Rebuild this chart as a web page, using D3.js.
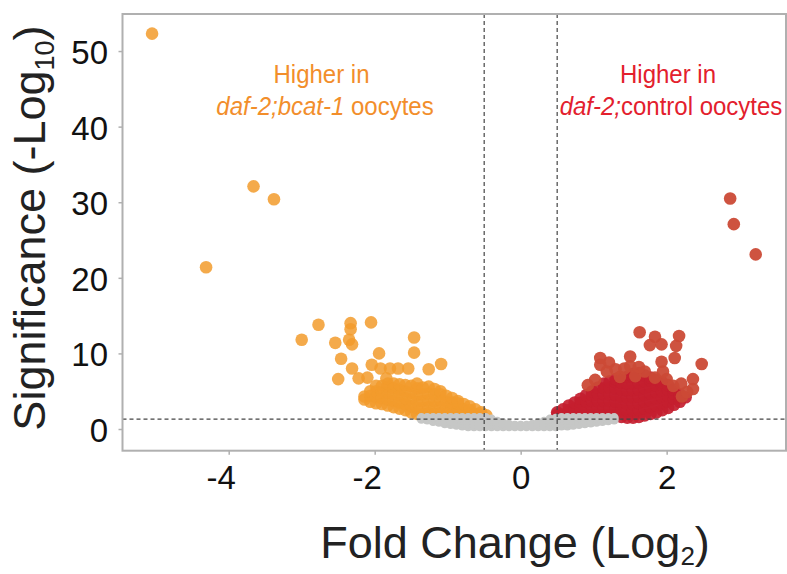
<!DOCTYPE html>
<html>
<head>
<meta charset="utf-8">
<script src="https://cdn.jsdelivr.net/npm/d3@7"></script>
<style>
  html, body { margin: 0; padding: 0; background: #ffffff; }
  svg { display: block; }
  text { font-family: "Liberation Sans", Arial, Helvetica, sans-serif; }
</style>
</head>
<body>
<svg id="chart" width="787" height="574"></svg>
<script>
// ---------------- data ----------------
const xTicks = [-4, -2, 0, 2];
const yTicks = [0, 10, 20, 30, 40, 50];
const foldCutoffs = [-0.5, 0.5];
const significanceCutoff = 1.3;

// isolated genes higher in daf-2;bcat-1 (log2 FC, -log10 p)
const downOuter = [
  [-5.05, 52.3], [-3.66, 32.1], [-3.38, 30.4], [-4.31, 21.4],
  [-2.77, 13.8], [-2.33, 14.0], [-2.33, 13.2], [-2.05, 14.1],
  [-3.00, 11.8], [-2.54, 11.4], [-2.35, 11.8], [-2.31, 11.2],
  [-1.46, 12.1], [-1.46, 10.1], [-1.94, 10.0], [-2.46, 9.3],
  [-2.50, 6.6], [-2.31, 8.0], [-2.22, 6.7], [-2.10, 6.8], [-2.04, 8.5],
  [-1.92, 8.0], [-1.79, 8.0], [-1.68, 8.0], [-1.54, 8.0], [-1.26, 7.9],
  [-1.09, 8.6], [-1.84, 6.7]
];
// dense cloud, columns of [log2 FC, [-log10 p ...]]
const downCore = [
  [-2.14, [3.9, 4.3]],
  [-2.06, [3.6, 4.4, 5.0]],
  [-1.98, [3.4, 4.2, 5.0, 5.7]],
  [-1.90, [3.3, 4.1, 4.9, 5.7]],
  [-1.82, [3.1, 3.9, 4.8, 5.6, 6.0]],
  [-1.74, [2.9, 3.7, 4.6, 5.4, 6.0]],
  [-1.66, [2.7, 3.5, 4.4, 5.2, 5.9]],
  [-1.58, [2.5, 3.3, 4.1, 5.0, 5.8]],
  [-1.50, [2.2, 3.0, 3.9, 4.8, 5.7]],
  [-1.42, [2.0, 2.8, 3.6, 4.5, 5.4, 6.0]],
  [-1.34, [2.0, 2.8, 3.7, 4.6, 5.5]],
  [-1.26, [2.1, 2.9, 3.8, 4.7, 5.6]],
  [-1.18, [2.0, 2.9, 3.7, 4.6, 5.3]],
  [-1.10, [2.1, 2.9, 3.8, 4.6, 5.0]],
  [-1.02, [2.0, 2.8, 3.6, 4.4]],
  [-0.94, [2.0, 2.8, 3.5, 4.1]],
  [-0.86, [2.0, 2.7, 3.4, 3.7]],
  [-0.78, [2.0, 2.6, 3.3]],
  [-0.70, [2.0, 2.5, 3.0]],
  [-0.62, [2.0, 2.6]],
  [-0.54, [1.9, 2.2]],
  [-0.47, [1.8]]
];

// genes higher in daf-2;control
const upOuter = [
  [2.87, 30.5], [2.92, 27.1], [3.22, 23.1],
  [1.63, 12.8], [1.84, 12.2], [2.17, 12.3], [1.77, 11.1], [1.93, 11.2], [2.13, 11.0],
  [2.11, 9.4], [1.93, 8.9], [2.48, 8.6], [1.09, 9.4], [1.21, 8.8], [1.09, 8.5],
  [1.50, 9.6], [1.50, 8.3], [2.36, 6.6], [2.36, 5.3], [2.21, 4.3], [2.00, 6.6],
  [2.09, 5.7], [1.02, 6.5], [1.36, 6.9], [1.70, 7.6], [1.57, 7.0], [1.84, 6.8],
  [1.18, 7.6], [1.30, 7.9], [1.42, 8.0], [1.62, 8.2], [1.95, 7.6], [2.20, 6.0],
  [0.92, 5.8], [2.28, 4.9]
];
const upCore = [
  [0.50, [1.9, 2.2]],
  [0.58, [1.9, 2.6]],
  [0.66, [1.9, 2.5, 3.1]],
  [0.74, [1.9, 2.7, 3.5]],
  [0.82, [1.9, 2.7, 3.5, 4.0]],
  [0.90, [1.9, 2.7, 3.6, 4.5]],
  [0.98, [1.9, 2.8, 3.7, 4.5, 5.0]],
  [1.06, [1.9, 2.8, 3.7, 4.6, 5.5]],
  [1.14, [1.9, 2.8, 3.7, 4.6, 5.4, 6.0]],
  [1.22, [1.9, 2.8, 3.7, 4.6, 5.5, 6.3]],
  [1.30, [1.9, 2.7, 3.6, 4.5, 5.4, 6.2, 6.6]],
  [1.38, [1.6, 2.5, 3.4, 4.3, 5.2, 6.1, 6.8]],
  [1.46, [1.5, 2.4, 3.3, 4.2, 5.1, 6.0, 6.9]],
  [1.54, [1.5, 2.4, 3.3, 4.2, 5.1, 6.0, 6.9, 7.3]],
  [1.62, [1.6, 2.5, 3.4, 4.3, 5.2, 6.1, 7.0, 7.4]],
  [1.70, [1.8, 2.7, 3.6, 4.5, 5.4, 6.3, 7.1]],
  [1.78, [2.0, 2.9, 3.8, 4.7, 5.6, 6.4, 6.8]],
  [1.86, [2.2, 3.1, 4.0, 4.9, 5.7, 6.5]],
  [1.94, [2.5, 3.3, 4.2, 5.0, 5.8, 6.2]],
  [2.02, [2.8, 3.6, 4.4, 5.2, 5.8]],
  [2.10, [3.2, 4.0, 4.7, 5.2]],
  [2.18, [3.6, 4.2, 4.6]],
  [2.26, [4.2]]
];

// not significant genes
const nsCore = [
  [-1.36, [1.3, 1.5]],
  [-1.28, [1.2, 1.5]],
  [-1.20, [1.0, 1.5]],
  [-1.12, [0.9, 1.3, 1.5]],
  [-1.04, [0.7, 1.1, 1.5]],
  [-0.96, [0.6, 1.0, 1.5]],
  [-0.88, [0.5, 0.9, 1.3, 1.5]],
  [-0.80, [0.4, 0.8, 1.2, 1.5]],
  [-0.72, [0.3, 0.7, 1.1, 1.5]],
  [-0.64, [0.3, 0.7, 1.1, 1.5]],
  [-0.56, [0.3, 0.7, 1.1, 1.5]],
  [-0.48, [0.3, 0.7, 1.1, 1.5]],
  [-0.40, [0.3, 0.7, 1.1, 1.3]],
  [-0.32, [0.3, 0.6, 1.0]],
  [-0.24, [0.3, 0.6, 0.8]],
  [-0.16, [0.3, 0.6]],
  [-0.08, [0.3, 0.5]],
  [0.00, [0.3, 0.5]],
  [0.08, [0.3, 0.5]],
  [0.16, [0.3, 0.6]],
  [0.24, [0.3, 0.6, 0.8]],
  [0.32, [0.3, 0.6, 1.0]],
  [0.40, [0.3, 0.7, 1.1, 1.3]],
  [0.48, [0.3, 0.7, 1.1, 1.4]],
  [0.56, [0.4, 0.8, 1.2, 1.5]],
  [0.64, [0.4, 0.8, 1.2, 1.5]],
  [0.72, [0.5, 0.9, 1.2, 1.5]],
  [0.80, [0.6, 1.0, 1.3, 1.5]],
  [0.88, [0.7, 1.1, 1.5]],
  [0.96, [0.8, 1.2, 1.5]],
  [1.04, [0.9, 1.2, 1.5]],
  [1.12, [1.0, 1.3, 1.5]],
  [1.20, [1.1, 1.5]],
  [1.28, [1.2, 1.5]]
];

// ---------------- drawing ----------------
const expand = cols => cols.flatMap(([fc, ps]) => ps.map(p => [fc, p]));

const svg = d3.select("#chart");
const frame = { left: 122.5, right: 786, top: 14, bottom: 450.7 };

const x = d3.scaleLinear().domain([-5.455, 3.635]).range([frame.left, frame.right]);
const y = d3.scaleLinear().domain([-2.87, 54.9]).range([frame.bottom, frame.top]);

const plot = svg.append("g");

function drawPoints(data, color, r, opacity) {
  plot.append("g").selectAll("circle").data(data).join("circle")
    .attr("cx", d => x(d[0])).attr("cy", d => y(d[1]))
    .attr("r", r).attr("fill", color).attr("fill-opacity", opacity);
}

drawPoints(expand(downCore), "#F29B2C", 6.3, 0.85);
drawPoints(downOuter, "#F29B2C", 6.3, 0.85);
drawPoints(expand(upCore), "#C41E2F", 6.3, 0.92);
drawPoints(upOuter, "#CB4A36", 6.3, 0.95);
drawPoints(expand(nsCore), "#C6C7C6", 4.6, 1);

// threshold lines
const dash = "4,3";
plot.selectAll("line.v").data(foldCutoffs).join("line")
  .attr("class", "v")
  .attr("x1", d => x(d)).attr("x2", d => x(d))
  .attr("y1", frame.top).attr("y2", frame.bottom)
  .attr("stroke", "#444").attr("stroke-width", 1.2).attr("stroke-dasharray", dash);
plot.append("line")
  .attr("x1", frame.left).attr("x2", frame.right)
  .attr("y1", y(significanceCutoff)).attr("y2", y(significanceCutoff))
  .attr("stroke", "#444").attr("stroke-width", 1.2).attr("stroke-dasharray", dash);

// frame
svg.append("rect")
  .attr("x", frame.left).attr("y", frame.top)
  .attr("width", frame.right - frame.left).attr("height", frame.bottom - frame.top)
  .attr("fill", "none").attr("stroke", "#B0B0B0").attr("stroke-width", 2);

// axes
const fmt = d => String(d);
const xAxis = svg.append("g").attr("transform", `translate(0,${frame.bottom})`)
  .call(d3.axisBottom(x).tickValues(xTicks).tickSize(4).tickPadding(11).tickFormat(fmt));
const yAxis = svg.append("g").attr("transform", `translate(${frame.left},0)`)
  .call(d3.axisLeft(y).tickValues(yTicks).tickSize(4).tickPadding(10.5).tickFormat(fmt));
[xAxis, yAxis].forEach(a => {
  a.select(".domain").remove();
  a.selectAll(".tick line").attr("stroke", "#B0B0B0").attr("stroke-width", 1.5);
  a.selectAll(".tick text")
    .attr("fill", "#111")
    .style("font-size", "33px")
    .style("font-family", '"Liberation Sans", Arial, sans-serif');
});
xAxis.selectAll(".tick text").attr("dx", d => d < 0 ? -8 : 0);
yAxis.selectAll(".tick text").attr("dy", "0.38em");

// axis titles
const xTitle = svg.append("text")
  .attr("x", 515).attr("y", 558).attr("text-anchor", "middle")
  .attr("fill", "#222").style("font-size", "45px");
xTitle.append("tspan").text("Fold Change (Log");
xTitle.append("tspan").text("2").style("font-size", "26px").attr("dy", 7);
xTitle.append("tspan").text(")").attr("dy", -7);

const yTitle = svg.append("text")
  .attr("transform", "translate(45,228) rotate(-90)")
  .attr("text-anchor", "middle")
  .attr("fill", "#222").style("font-size", "45px");
yTitle.append("tspan").text("Significance (-Log");
yTitle.append("tspan").text("10").style("font-size", "27px").attr("dy", 9);
yTitle.append("tspan").text(")").attr("dy", -9);

// annotations
const orange = "#F28E2B", red = "#E3202D";
function note(cx, lines, color) {
  svg.append("text")
    .attr("transform", `translate(${cx[0]},83.3) scale(1,1.07)`)
    .attr("text-anchor", "middle").attr("fill", color).style("font-size", "24px")
    .text(lines[0]);
  const t2 = svg.append("text")
    .attr("transform", `translate(${cx[1]},115) scale(1,1.07)`)
    .attr("text-anchor", "middle").attr("fill", color).style("font-size", "24px");
  t2.append("tspan").style("font-style", "italic").text(lines[1]);
  t2.append("tspan").text(lines[2]);
}
note([321.5, 325], ["Higher in", "daf-2;bcat-1", " oocytes"], orange);
note([668, 671], ["Higher in", "daf-2;", "control oocytes"], red);
</script>
</body>
</html>
